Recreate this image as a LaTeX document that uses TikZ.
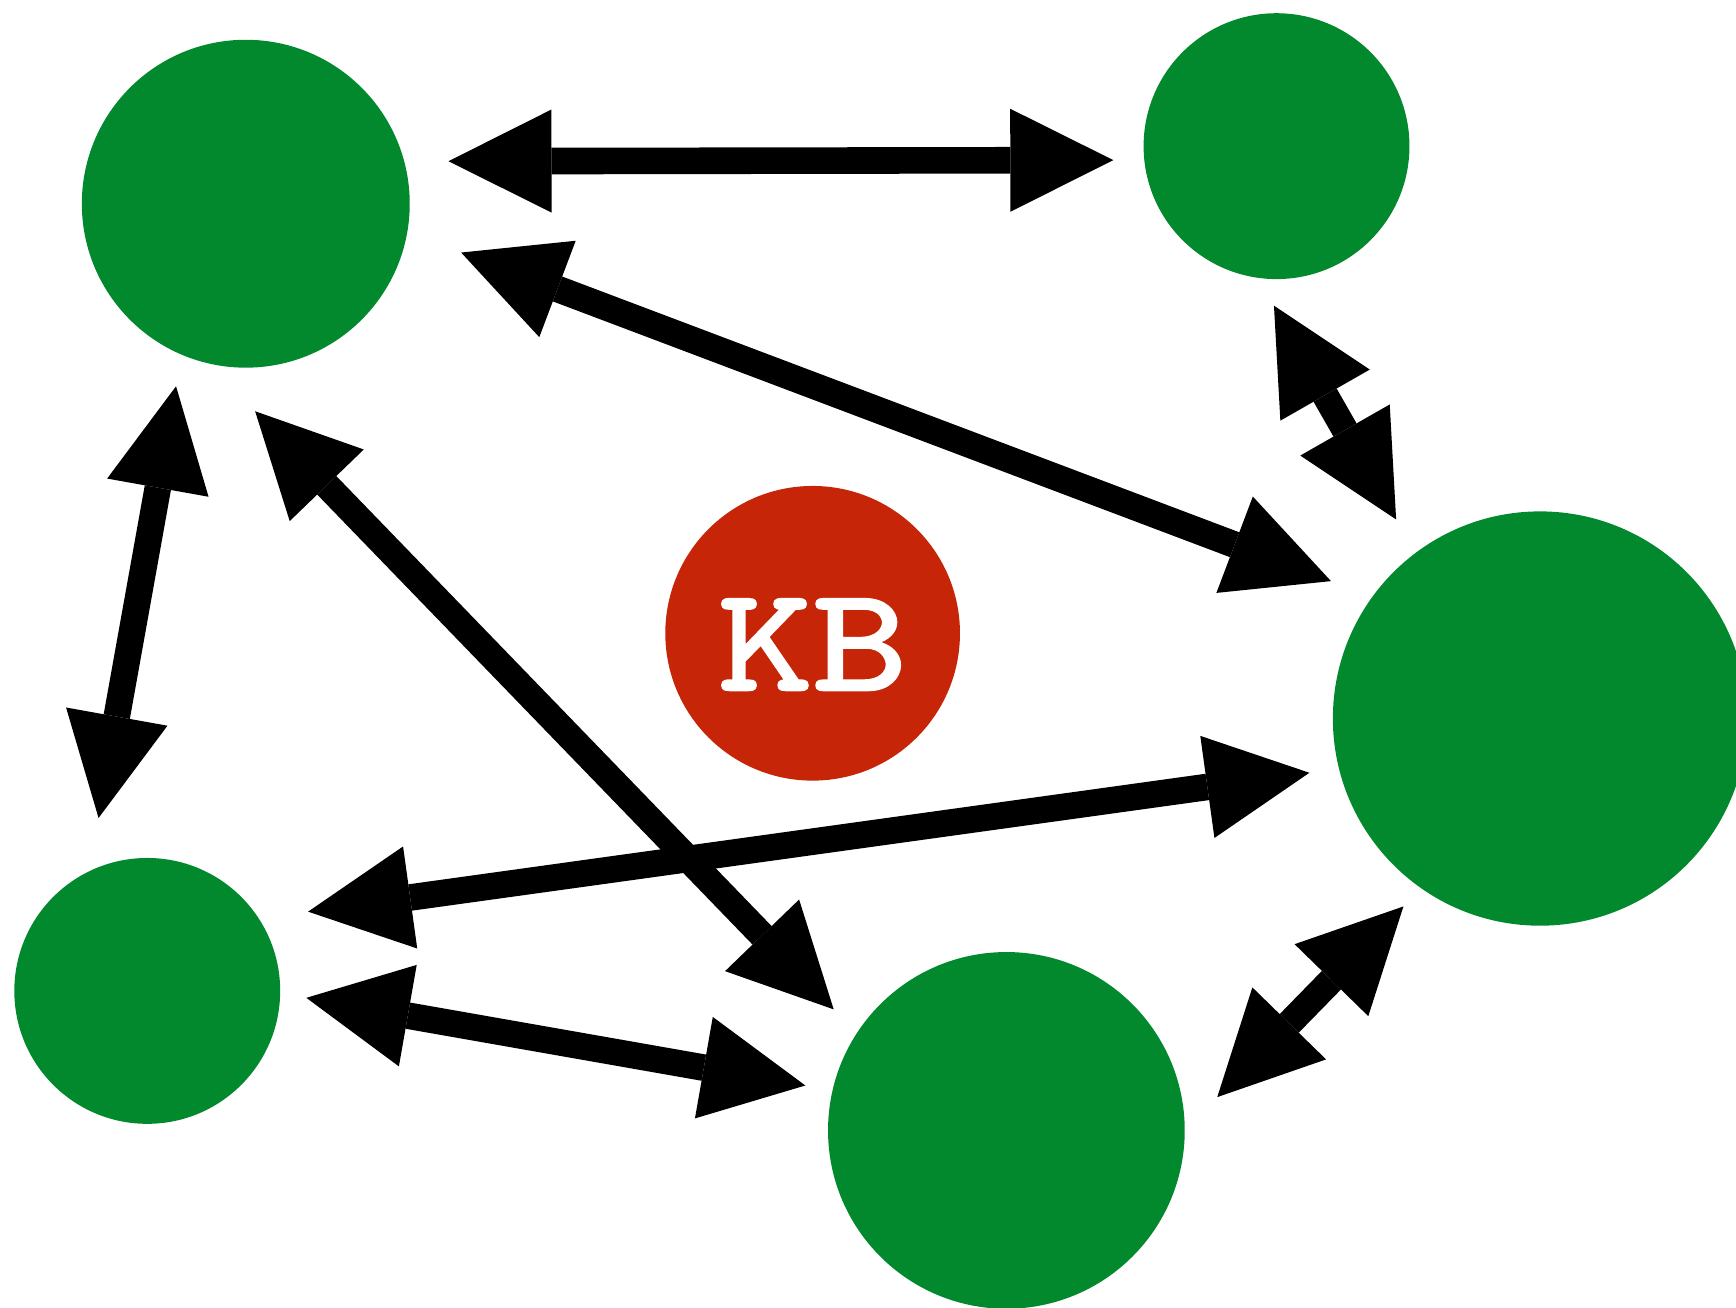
\documentclass[tikz,border=0pt]{standalone}
\usepackage{fontspec}
\usetikzlibrary{arrows.meta}

\newfontfamily\kbfont{lmmono10-regular.otf}[FakeStretch=1.22,FakeBold=2]
\definecolor{agentgreen}{HTML}{02892E}
\definecolor{kbred}{HTML}{C62507}

\begin{document}
\begin{tikzpicture}[x=0.01cm,y=-0.01cm,>={Triangle[length=0.93cm,width=0.93cm,line width=0pt]},line width=0.24cm,
  agent/.style={circle,fill=agentgreen,inner sep=0pt,outer sep=0pt},
  kb/.style={circle,fill=kbred,inner sep=0pt,outer sep=0pt,text=white,font=\kbfont\fontsize{38}{38}\selectfont}]

\useasboundingbox (0,0) rectangle (1568,1181);
\clip (0,0) rectangle (1568,1181);

\node[agent,minimum size=2.96cm] (g1) at (222,184)  {};
\node[agent,minimum size=2.40cm] (g2) at (1153,132) {};
\node[agent,minimum size=3.74cm] (g3) at (1391,649) {};
\node[agent,minimum size=2.40cm] (g4) at (133,895)  {};
\node[agent,minimum size=3.22cm] (g5) at (909,1021) {};
\node[kb,minimum size=2.66cm,text height=1.02cm,text depth=0pt] (kb) at (734,572) {KB};

\path[<->] (g1.15.7)  edge[shorten <=0.40cm,shorten >=0.28cm] (g2.186.7)
           (g1.350.9) edge[shorten <=0.52cm,shorten >=0.40cm] (g3.144.8)
           (g1.247.4) edge[shorten <=0.29cm,shorten >=0.49cm] (g4.116.6)
           (g1.257.6) edge[shorten <=0.60cm,shorten >=0.30cm] (g5.147.9)
           (g2.262.8) edge[shorten <=0.29cm,shorten >=0.35cm] (g3.127.2)
           (g4.33.9)  edge[shorten <=0.45cm,shorten >=0.27cm] (g3.194.1)
           (g4.359.2) edge[shorten <=0.24cm,shorten >=0.25cm] (g5.167.6)
           (g5.0.4)   edge[shorten <=0.42cm,shorten >=0.23cm] (g3.235.9);

\end{tikzpicture}
\end{document}
